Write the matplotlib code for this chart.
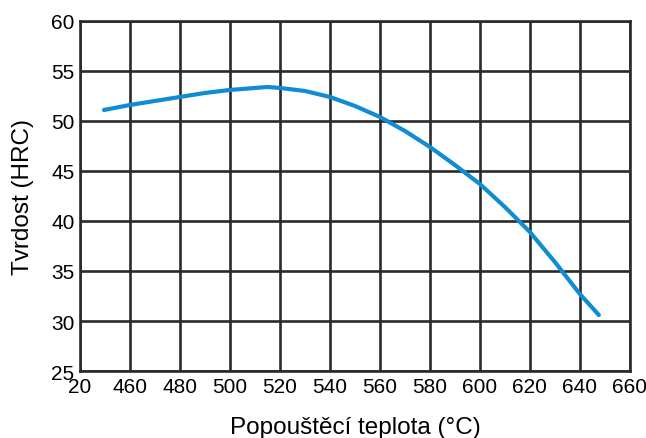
import matplotlib
matplotlib.use('Agg')
import matplotlib.pyplot as plt

# tempering temperature vs hardness
temp = [449.6, 460, 470, 480, 490, 500, 515, 520, 530, 540, 550, 560, 570, 580,
        590, 600, 610, 620, 630, 640, 647.6]
hrc = [51.1, 51.6, 52.0, 52.4, 52.8, 53.1, 53.4, 53.3, 53.0, 52.4, 51.5, 50.4, 49.0, 47.4,
       45.6, 43.7, 41.4, 38.9, 35.9, 32.7, 30.6]

xticks = [440, 460, 480, 500, 520, 540, 560, 580, 600, 620, 640, 660]
xtick_labels = ['20', '460', '480', '500', '520', '540', '560', '580', '600', '620', '640', '660']
yticks = [25, 30, 35, 40, 45, 50, 55, 60]

plt.rcParams['font.family'] = ['Liberation Sans', 'DejaVu Sans']

fig = plt.figure(figsize=(6.46, 4.39), dpi=100)
ax = fig.add_axes([0.1238, 0.1526, 0.8512, 0.7974])

ax.plot(temp, hrc, color='#108cd2', lw=3, solid_capstyle='round', zorder=3)

ax.set_xlim(440, 660)
ax.set_ylim(25, 60)
ax.set_xticks(xticks)
ax.set_xticklabels(xtick_labels)
ax.set_yticks(yticks)
ax.grid(True, color='#2a2a2a', lw=1.9)
ax.set_axisbelow(True)
for s in ax.spines.values():
    s.set_color('#2a2a2a')
    s.set_linewidth(1.9)
ax.tick_params(length=0, labelsize=15, pad=4)

ax.set_xlabel('Popouštěcí teplota (°C)', fontsize=17.5, labelpad=15)
ax.set_ylabel('Tvrdost (HRC)', fontsize=17.5, labelpad=12)

plt.savefig('out.png', dpi=100)
plt.close(fig)
